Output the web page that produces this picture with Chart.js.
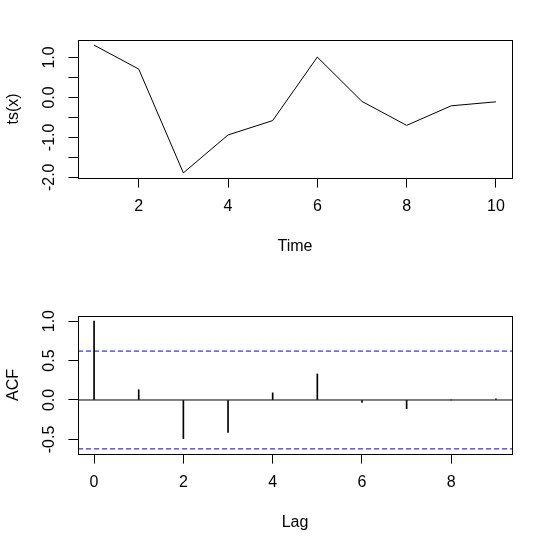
<!DOCTYPE html>
<html>
<head>
<meta charset="utf-8">
<script src="https://cdn.jsdelivr.net/npm/chart.js@4/dist/chart.umd.min.js"></script>
<style>
  html, body { margin: 0; padding: 0; background: #fff; }
  canvas { position: absolute; left: 0; }
  #tsChart { top: 0; }
  #acfChart { top: 276px; }
</style>
</head>
<body>
<canvas id="tsChart" width="553" height="276"></canvas>
<canvas id="acfChart" width="553" height="276"></canvas>
<script>
// values
const timeIdx = [1, 2, 3, 4, 5, 6, 7, 8, 9, 10];
const tsValues = [1.31, 0.71, -1.89, -0.94, -0.58, 1.01, -0.10, -0.70, -0.21, -0.11];

const lags = [0, 1, 2, 3, 4, 5, 6, 7, 8, 9];
const acfValues = [1.00, 0.13, -0.49, -0.41, 0.09, 0.33, -0.03, -0.11, 0.00, 0.015];
const ciBound = 0.62;

const tsXTicks = [2, 4, 6, 8, 10];
const tsYTicks = [-2, -1.5, -1, -0.5, 0, 0.5, 1];
const tsYLabels = ["-2.0", "", "-1.0", "", "0.0", "", "1.0"];
const acfXTicks = [0, 2, 4, 6, 8];
const acfYTicks = [-0.5, 0, 0.5, 1];
const acfYLabels = ["-0.5", "0.0", "0.5", "1.0"];

const FONT = { family: "'Liberation Sans', Arial, sans-serif", size: 16 };

// R-style axis range: data range plus 4% each side
function padRange(vals) {
  const lo = Math.min(...vals), hi = Math.max(...vals);
  const d = (hi - lo) * 0.04;
  return [lo - d, hi + d];
}

// frame round the plot region
const boxPlugin = {
  id: "box",
  afterDraw(chart) {
    const { ctx, chartArea: a } = chart;
    ctx.save();
    ctx.strokeStyle = "#000";
    ctx.lineWidth = 1;
    ctx.strokeRect(a.left + 0.5, a.top + 0.5, a.right - a.left, a.bottom - a.top);
    ctx.restore();
  }
};

function makeScales(xr, yr, xTicks, yTicks, yLabels, xTitle, yTitle) {
  const grid = { drawOnChartArea: false, drawTicks: true, tickLength: 9.6, color: "#000", lineWidth: 1, offset: false };
  return {
    x: {
      type: "linear", min: xr[0], max: xr[1], offset: false,
      afterBuildTicks: s => { s.ticks = xTicks.map(v => ({ value: v })); },
      afterFit: s => { s.height = 98; },
      grid: grid,
      border: { display: false },
      ticks: { autoSkip: false, minRotation: 0, maxRotation: 0, padding: 9.5, color: "#000", font: FONT,
               callback: v => String(v) },
      title: { display: true, text: xTitle, color: "#000", font: FONT, padding: { top: 0, bottom: 19.6 } }
    },
    y: {
      type: "linear", min: yr[0], max: yr[1], beginAtZero: false,
      afterBuildTicks: s => { s.ticks = yTicks.map(v => ({ value: v })); },
      afterFit: s => { s.width = 78; },
      grid: grid,
      border: { display: false },
      ticks: { autoSkip: false, minRotation: 90, maxRotation: 90, crossAlign: "center", padding: 5, color: "#000", font: FONT,
               callback: v => yLabels[yTicks.indexOf(v)] },
      title: { display: true, text: yTitle, color: "#000", font: FONT, padding: { top: 4.2, bottom: 0 } }
    }
  };
}

const common = {
  responsive: false,
  animation: false,
  events: [],
  layout: { padding: { top: 40, right: 41, bottom: 0, left: 0 } },
  plugins: { legend: { display: false }, tooltip: { enabled: false } }
};

// top: the series
new Chart(document.getElementById("tsChart"), {
  type: "line",
  data: {
    datasets: [{
      data: timeIdx.map((t, i) => ({ x: t, y: tsValues[i] })),
      borderColor: "#000",
      borderWidth: 1,
      pointRadius: 0,
      tension: 0
    }]
  },
  options: {
    ...common,
    scales: makeScales(padRange(timeIdx), padRange(tsValues), tsXTicks, tsYTicks, tsYLabels, "Time", "ts(x)")
  },
  plugins: [boxPlugin]
});

// bottom: autocorrelations
const acfX = padRange(lags);
const acfY = padRange([-ciBound, ciBound, 1, ...acfValues]);
const hline = (y) => [{ x: acfX[0], y: y }, { x: acfX[1], y: y }];

new Chart(document.getElementById("acfChart"), {
  type: "bar",
  data: {
    datasets: [
      {
        type: "bar",
        data: lags.map((l, i) => ({ x: l, y: acfValues[i] })),
        backgroundColor: "#000",
        borderWidth: 0,
        barThickness: 1
      },
      { type: "line", data: hline(0), borderColor: "#000", borderWidth: 1, pointRadius: 0 },
      { type: "line", data: hline(ciBound), borderColor: "#0000ff", borderWidth: 1, borderDash: [5, 3], pointRadius: 0 },
      { type: "line", data: hline(-ciBound), borderColor: "#0000ff", borderWidth: 1, borderDash: [5, 3], pointRadius: 0 }
    ]
  },
  options: {
    ...common,
    scales: makeScales(acfX, acfY, acfXTicks, acfYTicks, acfYLabels, "Lag", "ACF")
  },
  plugins: [boxPlugin]
});
</script>
</body>
</html>
